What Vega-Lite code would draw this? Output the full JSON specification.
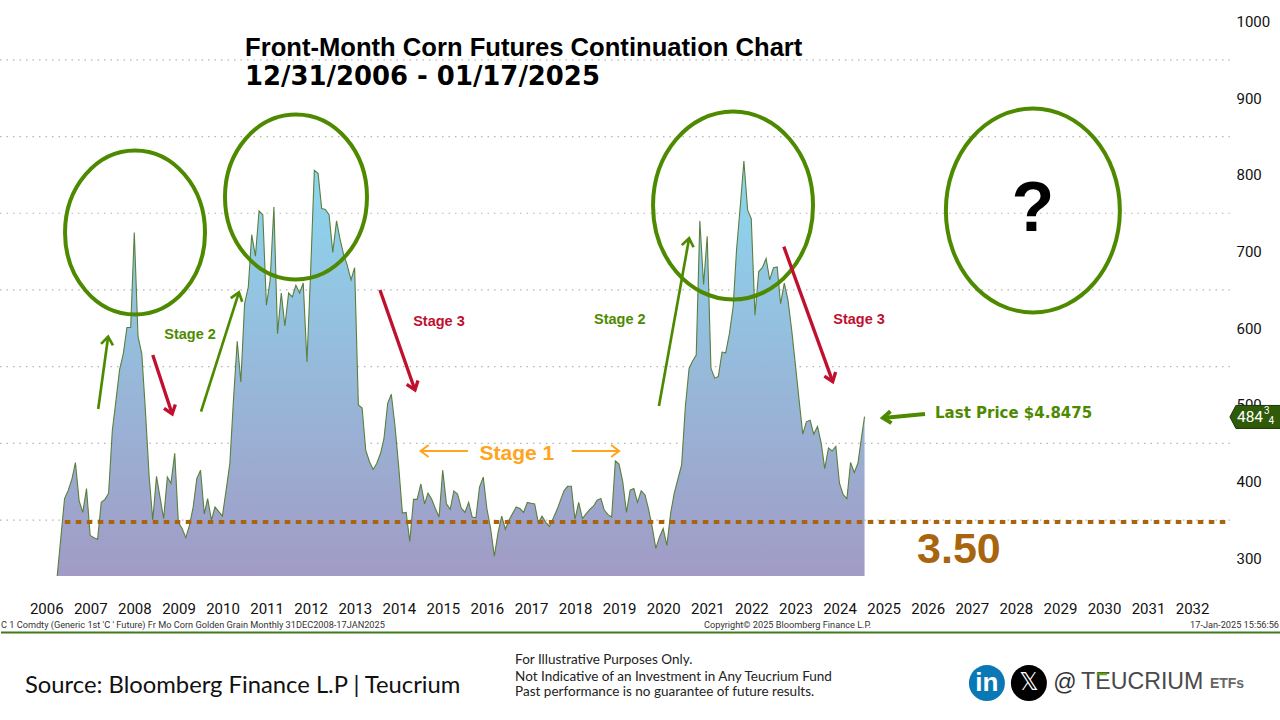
{"$schema":"https://vega.github.io/schema/vega-lite/v6.json","width":1280,"height":720,"padding":0,"autosize":{"type":"none"},"background":"white","config":{"view":{"stroke":null}},
"datasets":{"price":[
{"date":"2006-10-01","value":277},{"date":"2006-12-01","value":378},
{"date":"2007-01-01","value":389},{"date":"2007-02-01","value":404},{"date":"2007-03-01","value":425},{"date":"2007-04-01","value":375},{"date":"2007-05-01","value":360},{"date":"2007-06-01","value":391},{"date":"2007-07-01","value":330},{"date":"2007-08-01","value":327},{"date":"2007-09-01","value":325},{"date":"2007-10-01","value":373},{"date":"2007-11-01","value":377},{"date":"2007-12-01","value":385},
{"date":"2008-01-01","value":467},{"date":"2008-02-01","value":507},{"date":"2008-03-01","value":546},{"date":"2008-04-01","value":567},{"date":"2008-05-01","value":601},{"date":"2008-06-01","value":601},{"date":"2008-07-01","value":725},{"date":"2008-08-01","value":589},{"date":"2008-09-01","value":567},{"date":"2008-10-01","value":493},{"date":"2008-11-01","value":407},{"date":"2008-12-01","value":350},
{"date":"2009-01-01","value":407},{"date":"2009-02-01","value":378},{"date":"2009-03-01","value":352},{"date":"2009-04-01","value":406},{"date":"2009-05-01","value":398},{"date":"2009-06-01","value":437},{"date":"2009-07-01","value":347},{"date":"2009-08-01","value":339},{"date":"2009-09-01","value":327},{"date":"2009-10-01","value":343},{"date":"2009-11-01","value":367},{"date":"2009-12-01","value":404},
{"date":"2010-01-01","value":415},{"date":"2010-02-01","value":358},{"date":"2010-03-01","value":378},{"date":"2010-04-01","value":350},{"date":"2010-05-01","value":367},{"date":"2010-06-01","value":361},{"date":"2010-07-01","value":355},{"date":"2010-08-01","value":389},{"date":"2010-09-01","value":424},{"date":"2010-10-01","value":507},{"date":"2010-11-01","value":583},{"date":"2010-12-01","value":530},
{"date":"2011-01-01","value":632},{"date":"2011-02-01","value":654},{"date":"2011-03-01","value":722},{"date":"2011-04-01","value":694},{"date":"2011-05-01","value":753},{"date":"2011-06-01","value":748},{"date":"2011-07-01","value":630},{"date":"2011-08-01","value":663},{"date":"2011-09-01","value":758},{"date":"2011-10-01","value":593},{"date":"2011-11-01","value":646},{"date":"2011-12-01","value":603},
{"date":"2012-01-01","value":646},{"date":"2012-02-01","value":641},{"date":"2012-03-01","value":656},{"date":"2012-04-01","value":646},{"date":"2012-05-01","value":659},{"date":"2012-06-01","value":556},{"date":"2012-07-01","value":672},{"date":"2012-08-01","value":806},{"date":"2012-09-01","value":802},{"date":"2012-10-01","value":756},{"date":"2012-11-01","value":755},{"date":"2012-12-01","value":748},
{"date":"2013-01-01","value":699},{"date":"2013-02-01","value":740},{"date":"2013-03-01","value":717},{"date":"2013-04-01","value":696},{"date":"2013-05-01","value":682},{"date":"2013-06-01","value":663},{"date":"2013-07-01","value":679},{"date":"2013-08-01","value":500},{"date":"2013-09-01","value":496},{"date":"2013-10-01","value":441},{"date":"2013-11-01","value":426},{"date":"2013-12-01","value":416},
{"date":"2014-01-01","value":424},{"date":"2014-02-01","value":437},{"date":"2014-03-01","value":456},{"date":"2014-04-01","value":502},{"date":"2014-05-01","value":514},{"date":"2014-06-01","value":472},{"date":"2014-07-01","value":420},{"date":"2014-08-01","value":359},{"date":"2014-09-01","value":360},{"date":"2014-10-01","value":322},{"date":"2014-11-01","value":377},{"date":"2014-12-01","value":377},
{"date":"2015-01-01","value":397},{"date":"2015-02-01","value":371},{"date":"2015-03-01","value":385},{"date":"2015-04-01","value":377},{"date":"2015-05-01","value":365},{"date":"2015-06-01","value":354},{"date":"2015-07-01","value":415},{"date":"2015-08-01","value":371},{"date":"2015-09-01","value":364},{"date":"2015-10-01","value":388},{"date":"2015-11-01","value":384},{"date":"2015-12-01","value":366},
{"date":"2016-01-01","value":360},{"date":"2016-02-01","value":373},{"date":"2016-03-01","value":354},{"date":"2016-04-01","value":353},{"date":"2016-05-01","value":393},{"date":"2016-06-01","value":406},{"date":"2016-07-01","value":365},{"date":"2016-08-01","value":339},{"date":"2016-09-01","value":303},{"date":"2016-10-01","value":333},{"date":"2016-11-01","value":355},{"date":"2016-12-01","value":338},
{"date":"2017-01-01","value":350},{"date":"2017-02-01","value":359},{"date":"2017-03-01","value":367},{"date":"2017-04-01","value":365},{"date":"2017-05-01","value":360},{"date":"2017-06-01","value":373},{"date":"2017-07-01","value":372},{"date":"2017-08-01","value":371},{"date":"2017-09-01","value":346},{"date":"2017-10-01","value":355},{"date":"2017-11-01","value":347},{"date":"2017-12-01","value":342},
{"date":"2018-01-01","value":352},{"date":"2018-02-01","value":363},{"date":"2018-03-01","value":375},{"date":"2018-04-01","value":388},{"date":"2018-05-01","value":394},{"date":"2018-06-01","value":394},{"date":"2018-07-01","value":351},{"date":"2018-08-01","value":373},{"date":"2018-09-01","value":352},{"date":"2018-10-01","value":358},{"date":"2018-11-01","value":364},{"date":"2018-12-01","value":368},
{"date":"2019-01-01","value":376},{"date":"2019-02-01","value":378},{"date":"2019-03-01","value":363},{"date":"2019-04-01","value":357},{"date":"2019-05-01","value":354},{"date":"2019-06-01","value":427},{"date":"2019-07-01","value":423},{"date":"2019-08-01","value":400},{"date":"2019-09-01","value":360},{"date":"2019-10-01","value":389},{"date":"2019-11-01","value":391},{"date":"2019-12-01","value":373},
{"date":"2020-01-01","value":388},{"date":"2020-02-01","value":383},{"date":"2020-03-01","value":365},{"date":"2020-04-01","value":341},{"date":"2020-05-01","value":313},{"date":"2020-06-01","value":328},{"date":"2020-07-01","value":339},{"date":"2020-08-01","value":317},{"date":"2020-09-01","value":359},{"date":"2020-10-01","value":385},{"date":"2020-11-01","value":404},{"date":"2020-12-01","value":422},
{"date":"2021-01-01","value":498},{"date":"2021-02-01","value":548},{"date":"2021-03-01","value":557},{"date":"2021-04-01","value":565},{"date":"2021-05-01","value":740},{"date":"2021-06-01","value":657},{"date":"2021-07-01","value":720},{"date":"2021-08-01","value":548},{"date":"2021-09-01","value":535},{"date":"2021-10-01","value":537},{"date":"2021-11-01","value":569},{"date":"2021-12-01","value":568},
{"date":"2022-01-01","value":593},{"date":"2022-02-01","value":628},{"date":"2022-03-01","value":702},{"date":"2022-04-01","value":759},{"date":"2022-05-01","value":818},{"date":"2022-06-01","value":754},{"date":"2022-07-01","value":743},{"date":"2022-08-01","value":617},{"date":"2022-09-01","value":674},{"date":"2022-10-01","value":679},{"date":"2022-11-01","value":691},{"date":"2022-12-01","value":663},
{"date":"2023-01-01","value":679},{"date":"2023-02-01","value":680},{"date":"2023-03-01","value":632},{"date":"2023-04-01","value":659},{"date":"2023-05-01","value":637},{"date":"2023-06-01","value":598},{"date":"2023-07-01","value":554},{"date":"2023-08-01","value":507},{"date":"2023-09-01","value":462},{"date":"2023-10-01","value":478},{"date":"2023-11-01","value":480},{"date":"2023-12-01","value":462},
{"date":"2024-01-01","value":472},{"date":"2024-02-01","value":450},{"date":"2024-03-01","value":417},{"date":"2024-04-01","value":444},{"date":"2024-05-01","value":440},{"date":"2024-06-01","value":446},{"date":"2024-07-01","value":398},{"date":"2024-08-01","value":383},{"date":"2024-09-01","value":378},{"date":"2024-10-01","value":425},{"date":"2024-11-01","value":412},{"date":"2024-12-01","value":424},
{"date":"2025-01-01","value":459},{"date":"2025-01-25","value":484.75}
],
"arrows":[
{"date":"2007-09-06","value":494.8,"tip_date":"2007-11-27","tip_value":589,"kind":"stage 2","bearing":7.9},
{"date":"2008-12-01","value":565.2,"tip_date":"2009-05-11","tip_value":488.3,"kind":"stage 3","bearing":161.6},
{"date":"2010-01-05","value":491.3,"tip_date":"2010-11-15","tip_value":646.9,"kind":"stage 2","bearing":17.65},
{"date":"2014-01-27","value":649.9,"tip_date":"2014-11-13","tip_value":519.6,"kind":"stage 3","bearing":160.7},
{"date":"2020-05-27","value":498.7,"tip_date":"2021-02-01","tip_value":717.3,"kind":"stage 2","bearing":10.1},
{"date":"2023-03-28","value":706.4,"tip_date":"2024-05-06","tip_value":530.4,"kind":"stage 3","bearing":160.2},
{"date":"2016-01-26","value":440,"tip_date":"2014-12-30","tip_value":440,"kind":"stage 1","bearing":270},
{"date":"2018-06-04","value":440,"tip_date":"2019-07-02","tip_value":440,"kind":"stage 1","bearing":90},
{"date":"2026-06-10","value":488.3,"tip_date":"2025-06-27","tip_value":483.1,"kind":"last price","bearing":264.6}
]},
"encoding":{
"x":{"field":"date","type":"temporal","scale":{"domain":["2005-06-14","2034-06-30"]},"axis":{"orient":"bottom","offset":-120,"values":[{"year":2006},{"year":2007},{"year":2008},{"year":2009},{"year":2010},{"year":2011},{"year":2012},{"year":2013},{"year":2014},{"year":2015},{"year":2016},{"year":2017},{"year":2018},{"year":2019},{"year":2020},{"year":2021},{"year":2022},{"year":2023},{"year":2024},{"year":2025},{"year":2026},{"year":2027},{"year":2028},{"year":2029},{"year":2030},{"year":2031},{"year":2032}],"format":"%Y","labelOffset":22,"labelPadding":1,"labelFont":"Roboto","labelFontSize":15,"labelColor":"#111","labelOverlap":false,"labelFlush":false,"domain":false,"ticks":false,"grid":false,"title":null}},
"y":{"field":"value","type":"quantitative","scale":{"domain":[89.3,1028],"nice":false,"zero":false},"axis":{"orient":"right","offset":-46,"values":[300,400,500,600,700,800,900,1000],"format":"d","labelPadding":2,"labelFont":"Roboto","labelFontSize":15,"labelColor":"#111","labelAlign":"left","domain":false,"ticks":false,"grid":false,"title":null}}
},
"layer":[
{"data":{"values":[{"date":"2005-06-14","date_end":"2033-05-11","value":350},{"date":"2005-06-14","date_end":"2033-05-11","value":450},{"date":"2005-06-14","date_end":"2033-05-11","value":550},{"date":"2005-06-14","date_end":"2033-05-11","value":650},{"date":"2005-06-14","date_end":"2033-05-11","value":750},{"date":"2005-06-14","date_end":"2033-05-11","value":850},{"date":"2005-06-14","date_end":"2033-05-11","value":950}]},"mark":{"type":"rule","stroke":"#b5b5b5","strokeWidth":1.2,"strokeDash":[1.5,5]},"encoding":{"x2":{"field":"date_end"}}},
{"data":{"name":"price"},"mark":{"type":"area","fill":{"gradient":"linear","x1":0,"y1":0,"x2":0,"y2":1,"stops":[{"offset":0,"color":"#8cd8f0"},{"offset":1,"color":"#a19bc5"}]}},"encoding":{"y2":{"datum":277}}},
{"data":{"values":[{"date":"2007-01-01"},{"date":"2009-01-01"},{"date":"2011-01-01"},{"date":"2013-01-01"},{"date":"2015-01-01"},{"date":"2017-01-01"},{"date":"2019-01-01"},{"date":"2021-01-01"},{"date":"2023-01-01"},{"date":"2025-01-01"},{"date":"2027-01-01"},{"date":"2029-01-01"},{"date":"2031-01-01"},{"date":"2033-01-01"}]},"mark":{"type":"rule","stroke":"#a8a8a8","strokeWidth":1.2,"strokeDash":[1.5,5]},"encoding":{"y":{"datum":1028},"y2":{"datum":277}}},
{"data":{"name":"price"},"mark":{"type":"line","stroke":"#5a7f3c","strokeWidth":1.1}},
{"data":{"values":[{"date":"2006-12-03","date_end":"2033-05-04","value":347.5}]},"mark":{"type":"rule","stroke":"#a8650e","strokeWidth":4,"strokeDash":[5.5,5.5]},"encoding":{"x2":{"field":"date_end"}}},
{"data":{"values":[{"date":"2008-07-07","value":724.9}]},"mark":{"type":"point","filled":false,"size":4,"stroke":"#4e8a00","strokeWidth":4,"opacity":1,"shape":"M -70,0 A 70,82 0 1,1 70,0 A 70,82 0 1,1 -70,0 Z"}},
{"data":{"values":[{"date":"2012-03-02","value":771.2}]},"mark":{"type":"point","filled":false,"size":4,"stroke":"#4e8a00","strokeWidth":4,"opacity":1,"shape":"M -71,0 A 71,82.5 0 1,1 71,0 A 71,82.5 0 1,1 -71,0 Z"}},
{"data":{"values":[{"date":"2022-01-31","value":760.1}]},"mark":{"type":"point","filled":false,"size":4,"stroke":"#4e8a00","strokeWidth":4,"opacity":1,"shape":"M -80,0 A 80,94 0 1,1 80,0 A 80,94 0 1,1 -80,0 Z"}},
{"data":{"values":[{"date":"2028-11-20","value":753.6}]},"mark":{"type":"point","filled":false,"size":4,"stroke":"#4e8a00","strokeWidth":4,"opacity":1,"shape":"M -87,0 A 87,102 0 1,1 87,0 A 87,102 0 1,1 -87,0 Z"}},
{"data":{"name":"arrows"},"mark":{"type":"rule"},"encoding":{"x2":{"field":"tip_date"},"y2":{"field":"tip_value"},"color":{"field":"kind","type":"nominal","scale":{"domain":["stage 1","stage 2","stage 3","last price"],"range":["#ffa41c","#4e8a00","#c0102f","#4e8a00"]},"legend":null},"strokeWidth":{"field":"kind","type":"nominal","scale":{"domain":["stage 1","stage 2","stage 3","last price"],"range":[2,4,4,2]},"legend":null}}},
{"data":{"name":"arrows"},"mark":{"type":"point","filled":false,"size":4,"opacity":1,"shape":"M -6,8 L 0,0 L 6,8"},"encoding":{"x":{"field":"tip_date","type":"temporal"},"y":{"field":"tip_value","type":"quantitative"},"angle":{"field":"bearing","type":"quantitative","scale":null},"stroke":{"field":"kind","type":"nominal","scale":{"domain":["stage 1","stage 2","stage 3","last price"],"range":["#ffa41c","#4e8a00","#c0102f","#4e8a00"]},"legend":null},"strokeWidth":{"field":"kind","type":"nominal","scale":{"domain":["stage 1","stage 2","stage 3","last price"],"range":[2,4,4,2]},"legend":null}}},
{"data":{"values":[{"date":"2011-01-05","value":965.5,"label":"Front-Month Corn Futures Continuation Chart"}]},"mark":{"type":"text","align":"left","baseline":"middle","font":"Liberation Sans","fontWeight":"bold","fontSize":25.6,"fill":"#000"},"encoding":{"text":{"field":"label"}}},
{"data":{"values":[{"date":"2011-01-05","value":927.6,"label":"12/31/2006 - 01/17/2025"}]},"mark":{"type":"text","align":"left","baseline":"middle","font":"DejaVu Sans","fontWeight":"bold","fontSize":25.9,"fill":"#000"},"encoding":{"text":{"field":"label"}}},
{"data":{"values":[{"date":"2009-10-06","value":591.3,"label":"Stage 2"},{"date":"2019-07-08","value":610.8,"label":"Stage 2"}]},"mark":{"type":"text","align":"center","baseline":"middle","font":"Liberation Sans","fontWeight":"bold","fontSize":14.5,"fill":"#4e8a00"},"encoding":{"text":{"field":"label"}}},
{"data":{"values":[{"date":"2015-05-31","value":608.2,"label":"Stage 3"},{"date":"2024-12-10","value":610.8,"label":"Stage 3"}]},"mark":{"type":"text","align":"center","baseline":"middle","font":"Liberation Sans","fontWeight":"bold","fontSize":14.5,"fill":"#c0102f"},"encoding":{"text":{"field":"label"}}},
{"data":{"values":[{"date":"2026-09-01","value":489.6,"label":"Last Price $4.8475"}]},"mark":{"type":"text","align":"left","baseline":"middle","font":"DejaVu Sans","fontWeight":"bold","fontSize":15,"fill":"#4e8a00"},"encoding":{"text":{"field":"label"}}},
{"data":{"values":[{"date":"2017-03-07","value":436.1,"label":"Stage 1"}]},"mark":{"type":"text","align":"center","baseline":"middle","font":"Liberation Sans","fontWeight":"bold","fontSize":21,"fill":"#ffa41c"},"encoding":{"text":{"field":"label"}}},
{"data":{"values":[{"date":"2027-03-18","value":311,"label":"3.50"}]},"mark":{"type":"text","align":"center","baseline":"middle","font":"Liberation Sans","fontWeight":"bold","fontSize":43,"fill":"#a8650e"},"encoding":{"text":{"field":"label"}}},
{"data":{"values":[{"date":"2028-11-20","value":754,"label":"?"}]},"mark":{"type":"text","align":"center","baseline":"middle","font":"Liberation Sans","fontWeight":"bold","fontSize":70,"fill":"#000"},"encoding":{"text":{"field":"label"}}},
{"data":{"values":[{"date":"2033-05-11","value":484.4}]},"mark":{"type":"point","filled":true,"size":4,"opacity":1,"fill":"#2f5a07","stroke":"#1c3604","strokeWidth":1,"shape":"M 0,0 L 6,-11.5 L 52,-11.5 L 52,11.5 L 6,11.5 Z"}},
{"data":{"values":[{"date":"2033-07-08","value":484.4,"label":"484"}]},"mark":{"type":"text","align":"left","baseline":"middle","font":"Roboto","fontSize":15.5,"fill":"#fff"},"encoding":{"text":{"field":"label"}}},
{"data":{"values":[{"date":"2034-02-17","value":492.2,"label":"3"},{"date":"2034-03-26","value":479.5,"label":"4"}]},"mark":{"type":"text","align":"left","baseline":"middle","font":"Roboto","fontSize":10,"fill":"#fff"},"encoding":{"text":{"field":"label"}}},
{"data":{"values":[{"date":"2005-06-22","date_end":"2034-06-30","value":203.4}]},"mark":{"type":"rule","stroke":"#3f7a1f","strokeWidth":2},"encoding":{"x2":{"field":"date_end"}}},
{"data":{"values":[{"date":"2005-06-22","value":213.2,"label":"C 1 Comdty (Generic 1st 'C ' Future) Fr Mo Corn Golden Grain  Monthly 31DEC2008-17JAN2025"},{"date":"2021-06-05","value":213.2,"label":"Copyright© 2025 Bloomberg Finance L.P."}]},"mark":{"type":"text","align":"left","baseline":"middle","font":"Roboto","fontSize":9.2,"fill":"#333"},"encoding":{"text":{"field":"label"}}},
{"data":{"values":[{"date":"2034-06-22","value":213.2,"label":"17-Jan-2025 15:56:56"}]},"mark":{"type":"text","align":"right","baseline":"middle","font":"Roboto","fontSize":9.2,"fill":"#333"},"encoding":{"text":{"field":"label"}}},
{"data":{"values":[{"date":"2006-01-07","value":133.6,"label":"Source: Bloomberg Finance L.P | Teucrium"}]},"mark":{"type":"text","align":"left","baseline":"middle","font":"Lato","fontSize":23.8,"fill":"#111"},"encoding":{"text":{"field":"label"}}},
{"data":{"values":[{"date":"2017-02-20","value":167.5,"label":"For Illustrative Purposes Only."},{"date":"2017-02-20","value":145.4,"label":"Not Indicative of an Investment in Any Teucrium Fund"},{"date":"2017-02-20","value":125.8,"label":"Past performance is no guarantee of future results."}]},"mark":{"type":"text","align":"left","baseline":"middle","font":"Lato","fontSize":13.5,"fill":"#222"},"encoding":{"text":{"field":"label"}}},
{"data":{"values":[{"date":"2027-11-05","value":137.5}]},"mark":{"type":"point","shape":"circle","filled":true,"size":1296,"opacity":1,"fill":"#0a78b5"}},
{"data":{"values":[{"date":"2028-10-18","value":137.5}]},"mark":{"type":"point","shape":"circle","filled":true,"size":1296,"opacity":1,"fill":"#000"}},
{"data":{"values":[{"date":"2027-11-05","value":137.5,"label":"in"}]},"mark":{"type":"text","align":"center","baseline":"middle","font":"Liberation Sans","fontWeight":"bold","fontSize":26,"fill":"#fff"},"encoding":{"text":{"field":"label"}}},
{"data":{"values":[{"date":"2028-10-18","value":137.5,"label":"𝕏"}]},"mark":{"type":"text","align":"center","baseline":"middle","font":"DejaVu Sans","fontSize":24,"fill":"#fff"},"encoding":{"text":{"field":"label"}}},
{"data":{"values":[{"date":"2029-08-13","value":137.5,"label":"@"}]},"mark":{"type":"text","align":"center","baseline":"middle","font":"Liberation Sans","fontSize":23,"fill":"#333"},"encoding":{"text":{"field":"label"}}},
{"data":{"values":[{"date":"2029-12-24","value":139,"label":"TEUCRIUM"}]},"mark":{"type":"text","align":"left","baseline":"middle","font":"Liberation Sans","fontSize":23.2,"fill":"#4a4a4a"},"encoding":{"text":{"field":"label"}}},
{"data":{"values":[{"date":"2030-05-04","date_end":"2030-07-26","value":149.3}]},"mark":{"type":"rule","stroke":"#5aa500","strokeWidth":2.5},"encoding":{"x2":{"field":"date_end"}}},
{"data":{"values":[{"date":"2032-11-26","value":136,"label":"ETFs"}]},"mark":{"type":"text","align":"left","baseline":"middle","font":"Liberation Sans","fontWeight":"bold","fontSize":14,"fill":"#666"},"encoding":{"text":{"field":"label"}}}
]}
